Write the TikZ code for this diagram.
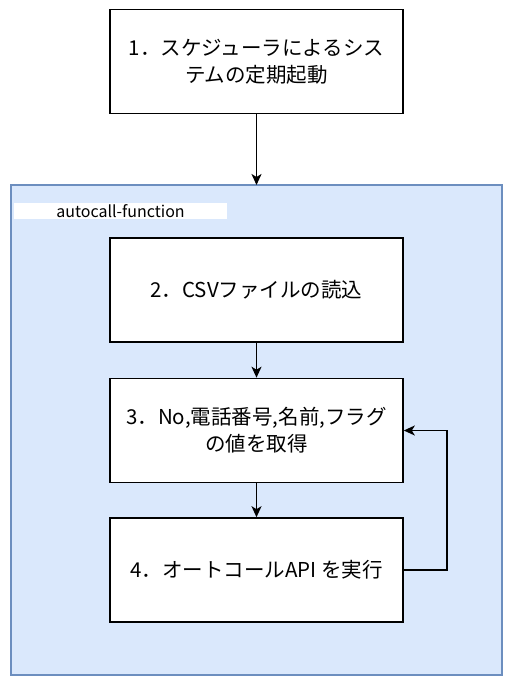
\documentclass[tikz,border=0pt]{standalone}
\usepackage{fontspec}
\setmainfont{Noto Sans CJK JP}
\usetikzlibrary{arrows.meta}
\definecolor{contfill}{HTML}{DAE8FC}
\definecolor{contline}{HTML}{6C8EBF}
\tikzset{
  x=1pt,y=-1pt,
  stepbox/.style={draw=black,fill=white,line width=1.6pt,minimum width=293pt,minimum height=104pt,inner sep=0pt,align=center,font=\fontsize{20.5}{27}\selectfont},
  conn/.style={draw=black,line width=1.6pt,-{Stealth[length=11pt,width=10pt,inset=3pt]}},
}
\begin{document}
\begin{tikzpicture}
\useasboundingbox (0,0) rectangle (509,684);
\node[draw=contline,fill=contfill,line width=1.3pt,minimum width=491pt,minimum height=490pt,inner sep=0pt] (cont) at (256.5,430) {};
\node[fill=white,minimum width=213pt,minimum height=16pt,inner sep=0pt,font=\fontsize{16}{16}\selectfont] (lbl) at (120.5,211) {autocall-function};
\node[stepbox] (s1) at (256.5,61.5) {1．スケジューラによるシス\\テムの定期起動};
\node[stepbox] (s2) at (256.5,290) {2．CSVファイルの読込};
\node[stepbox] (s3) at (256.5,430.5) {3．No,電話番号,名前,フラグ\\の値を取得};
\node[stepbox] (s4) at (256.5,570) {4．オートコールAPI を実行};
\coordinate (ctop) at (256.5,185);
\draw[conn] (s1.south) -- (ctop);
\draw[conn] (s2.south) -- (s3.north);
\draw[conn] (s3.south) -- (s4.north);
\draw[conn] (s4.east) -- ++(43,0) |- (s3.east);
\end{tikzpicture}
\end{document}
